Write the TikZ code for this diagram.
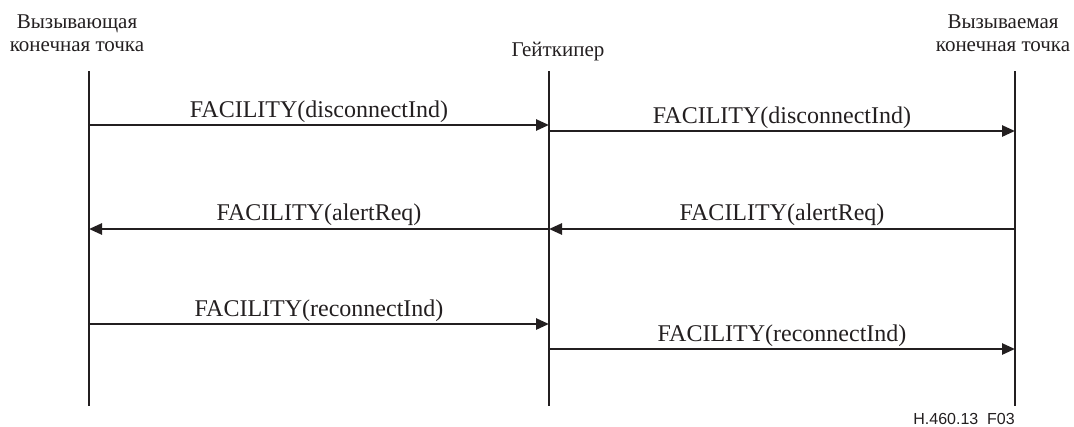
\documentclass[tikz,border=0pt]{standalone}
\usepackage{fontspec}
\setmainfont{Liberation Serif}
\newfontfamily\figsans{Liberation Sans}
\usetikzlibrary{arrows.meta}
\definecolor{ink}{RGB}{35,31,32}
\begin{document}
\begin{tikzpicture}[x=1pt,y=-1pt,
  lifeline/.style={draw=ink,line width=2pt},
  msg/.style={draw=ink,line width=2.6pt,-{Triangle[length=13pt,width=11pt]}},
  msglabel/.style={anchor=base,inner sep=0pt,text=ink,font=\fontsize{24}{24}\selectfont},
  head/.style={anchor=base,inner sep=0pt,text=ink,font=\fontsize{21}{21}\selectfont},
  tag/.style={anchor=base east,inner sep=0pt,text=ink,font=\figsans\fontsize{16}{16}\selectfont}]
\useasboundingbox (0,0) rectangle (1074,426);
% headers
\node[head] (hA1) at (77,28) {Вызывающая};
\node[head] (hA2) at (77,51) {конечная точка};
\node[head] (hG) at (558,56) {Гейткипер};
\node[head] (hB1) at (1003,28) {Вызываемая};
\node[head] (hB2) at (1003,51) {конечная точка};
% lifelines
\coordinate (At) at (89,71);  \coordinate (Ab) at (89,406);
\coordinate (Gt) at (549,71); \coordinate (Gb) at (549,406);
\coordinate (Bt) at (1015,71); \coordinate (Bb) at (1015,406);
\draw[lifeline] (At) -- (Ab);
\draw[lifeline] (Gt) -- (Gb);
\draw[lifeline] (Bt) -- (Bb);
% message points
\coordinate (A1) at (89,125);  \coordinate (G1) at (549,125);
\coordinate (G1b) at (549,131); \coordinate (B1) at (1015,131);
\coordinate (A2) at (89,229);  \coordinate (G2) at (549,229); \coordinate (B2) at (1015,229);
\coordinate (A3) at (89,324);  \coordinate (G3) at (549,324);
\coordinate (G3b) at (549,349); \coordinate (B3) at (1015,349);
% messages
\draw[msg] (A1) -- (G1) node[msglabel,pos=0.5,yshift=8pt] (l1) {FACILITY(disconnectInd)};
\draw[msg] (G1b) -- (B1) node[msglabel,pos=0.5,yshift=8pt] (l2) {FACILITY(disconnectInd)};
\draw[msg] (G2) -- (A2) node[msglabel,pos=0.5,yshift=9pt] (l3) {FACILITY(alertReq)};
\draw[msg] (B2) -- (G2) node[msglabel,pos=0.5,yshift=9pt] (l4) {FACILITY(alertReq)};
\draw[msg] (A3) -- (G3) node[msglabel,pos=0.5,yshift=8pt] (l5) {FACILITY(reconnectInd)};
\draw[msg] (G3b) -- (B3) node[msglabel,pos=0.5,yshift=8pt] (l6) {FACILITY(reconnectInd)};
% figure tag
\node[tag] (tag) at (1015,424) {H.460.13\ \ F03};
\end{tikzpicture}
\end{document}
